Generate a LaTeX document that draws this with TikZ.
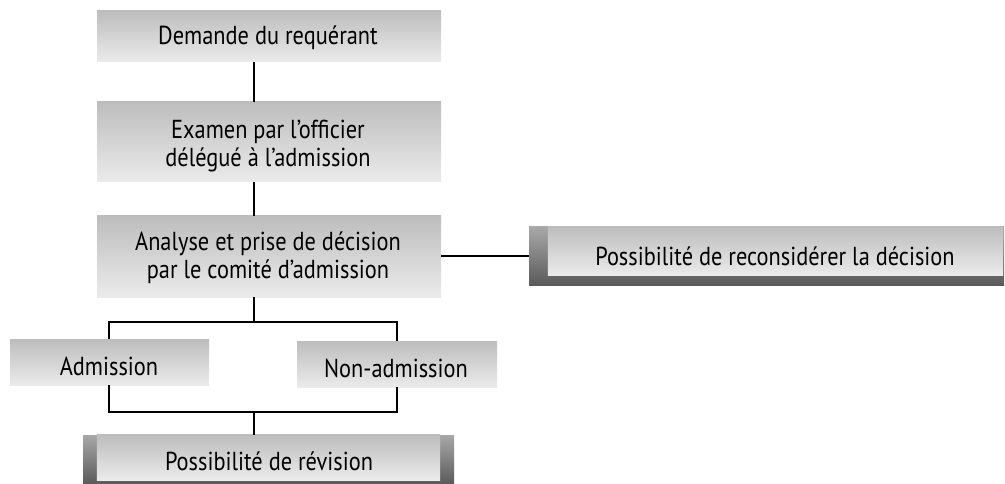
\documentclass[tikz,border=0pt]{standalone}
\usepackage{fontspec}
\setmainfont{PT Sans}[FakeStretch=0.86]
\usetikzlibrary{calc}
\definecolor{lighttop}{HTML}{BDBDBD}
\definecolor{lightbot}{HTML}{EBEBEB}
\definecolor{darktop}{HTML}{A8A8A8}
\definecolor{darkbot}{HTML}{5A5A5A}
\tikzset{
  lbox/.style={rectangle, inner sep=0pt, align=center, top color=lighttop, bottom color=lightbot, draw=none},
  dbox/.style={rectangle, inner sep=0pt, top color=darktop, bottom color=darkbot, draw=none},
  lab/.style={inner sep=0pt, align=center, font=\fontsize{26}{28}\selectfont},
  conn/.style={line width=1.6pt, black}
}
\begin{document}
\begin{tikzpicture}[x=1pt,y=-1pt]
\useasboundingbox (0,0) rectangle (1005,484);
% main column boxes
\node[lbox, minimum width=344pt, minimum height=51pt] (b1) at (269,36.5) {};
\node[lab] (t1) at (268,38) {Demande du requérant};
\node[lbox, minimum width=344pt, minimum height=80pt] (b2) at (269,142) {};
\node[lab] (t2) at (268,146) {Examen par l'officier\\délégué à l'admission};
\node[lbox, minimum width=344pt, minimum height=81pt] (b3) at (269,256.5) {};
\node[lab] (t3) at (268,258) {Analyse et prise de décision\\par le comité d'admission};
% reconsider box
\node[dbox, minimum width=475pt, minimum height=58pt] (b4) at (766.5,256) {};
\shade[top color=lighttop, bottom color=lightbot] ($(b4.north west)+(19,0)$) rectangle ($(b4.south east)+(-1,-10)$);
\node[lab] (t4) at (775,256) {Possibilité de reconsidérer la décision};
% decision boxes
\node[lbox, minimum width=199pt, minimum height=46pt] (adm) at (109.5,362) {};
\node[lab] (ta) at (109,366) {Admission};
\node[lbox, minimum width=200pt, minimum height=46pt] (nadm) at (397,364) {};
\node[lab] (tn) at (396,368) {Non-admission};
% revision box
\node[dbox, minimum width=371pt, minimum height=49pt] (b5) at (268.5,459.5) {};
\shade[top color=lighttop, bottom color=lightbot] ($(b5.north west)+(14,0)$) rectangle ($(b5.south east)+(-14,-4)$);
\node[lab] (t5) at (269,461) {Possibilité de révision};
% connectors
\coordinate (cx) at (254,0);
\coordinate (lx) at (109,0);
\coordinate (rx) at (397,0);
\coordinate (top) at (0,322);
\coordinate (bot) at (0,412);
\draw[conn] (b1.south -| cx) -- (b2.north -| cx);
\draw[conn] (b2.south -| cx) -- (b3.north -| cx);
\draw[conn] (b3.south -| cx) -- (top -| cx);
\draw[conn] (adm.north -| lx) -- (top -| lx) -- (top -| rx) -- (nadm.north -| rx);
\draw[conn] (adm.south -| lx) -- (bot -| lx) -- (bot -| rx) -- (nadm.south -| rx);
\draw[conn] (bot -| cx) -- (b5.north -| cx);
\draw[conn] (b3.east |- b4.west) -- (b4.west);
\end{tikzpicture}
\end{document}
